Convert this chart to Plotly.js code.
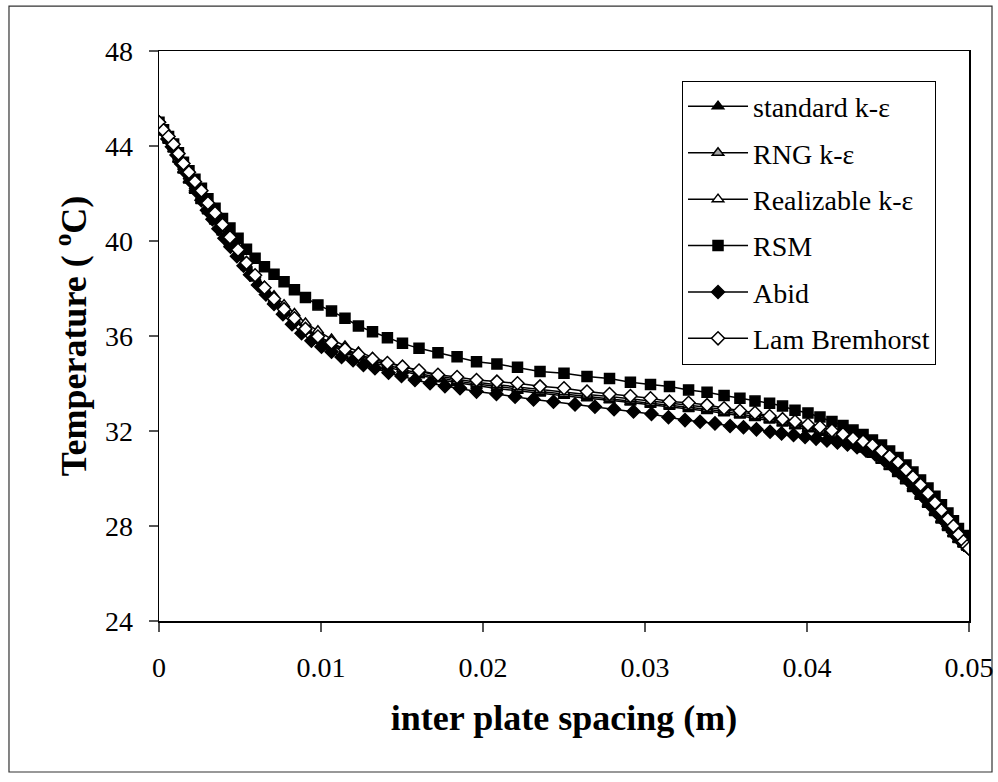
<!DOCTYPE html>
<html>
<head>
<meta charset="utf-8">
<script src="https://cdn.plot.ly/plotly-3.0.1.min.js"></script>
<style>html,body{margin:0;padding:0;background:#fff;}#chart{width:998px;height:782px;}</style>
</head>
<body>
<div id="chart"></div>
<script>
// Shared spacing grid (m) for most models
const xCommon = [0, 0.00028, 0.00059, 0.0009, 0.0012, 0.00151, 0.00185, 0.00222, 0.00262, 0.00302,
  0.00346, 0.00392, 0.00438, 0.00488, 0.0054, 0.00593, 0.00651, 0.0071, 0.00772, 0.00836,
  0.00904, 0.00981, 0.01065, 0.01148, 0.01231, 0.01318, 0.0141, 0.01503, 0.01605, 0.01722,
  0.0184, 0.0196, 0.02086, 0.02213, 0.02352, 0.025, 0.02642, 0.02781, 0.0291, 0.03034,
  0.03151, 0.03269, 0.03383, 0.03488, 0.03586, 0.03679, 0.03769, 0.03849, 0.03926, 0.04006,
  0.0408, 0.04154, 0.04222, 0.04284, 0.04346, 0.04404, 0.0446, 0.0451, 0.04562, 0.04611,
  0.04654, 0.04701, 0.04747, 0.0479, 0.0483, 0.0487, 0.04904, 0.04935, 0.04966, 0.04988,
  0.05];

const tStandard = [45.0, 44.58, 44.22, 43.85, 43.42, 42.97, 42.55, 42.12, 41.68, 41.25,
  40.82, 40.36, 39.9, 39.4, 38.9, 38.42, 37.95, 37.5, 37.06, 36.65,
  36.25, 35.9, 35.6, 35.32, 35.09, 34.89, 34.7, 34.52, 34.35, 34.18,
  34.03, 33.9, 33.79, 33.69, 33.58, 33.48, 33.38, 33.29, 33.2, 33.11,
  33.02, 32.93, 32.84, 32.75, 32.65, 32.55, 32.44, 32.32, 32.2, 32.07,
  31.93, 31.78, 31.6, 31.42, 31.22, 31.0, 30.75, 30.48, 30.19, 29.88,
  29.56, 29.23, 28.89, 28.55, 28.23, 27.92, 27.65, 27.41, 27.22, 27.1,
  27.05];

const tRNG = [45.0, 44.6, 44.25, 43.88, 43.45, 43.0, 42.58, 42.15, 41.72, 41.3,
  40.88, 40.42, 39.95, 39.45, 38.95, 38.45, 37.98, 37.55, 37.12, 36.72,
  36.33, 35.98, 35.68, 35.4, 35.17, 34.97, 34.78, 34.6, 34.42, 34.25,
  34.1, 33.98, 33.87, 33.77, 33.66, 33.56, 33.46, 33.37, 33.28, 33.19,
  33.1, 33.01, 32.92, 32.82, 32.72, 32.62, 32.51, 32.39, 32.27, 32.14,
  32.0, 31.84, 31.66, 31.48, 31.28, 31.05, 30.8, 30.53, 30.24, 29.92,
  29.6, 29.27, 28.92, 28.58, 28.26, 27.95, 27.68, 27.43, 27.23, 27.11,
  27.05];

const tRealizable = [45.0, 44.62, 44.3, 43.95, 43.55, 43.12, 42.72, 42.3, 41.88, 41.42,
  40.98, 40.5, 40.0, 39.5, 39.0, 38.55, 38.1, 37.7, 37.32, 36.95,
  36.55, 36.22, 35.87, 35.58, 35.33, 35.1, 34.9, 34.72, 34.52, 34.32,
  34.18, 34.05, 33.95, 33.85, 33.74, 33.64, 33.54, 33.45, 33.36, 33.27,
  33.18, 33.09, 33.0, 32.9, 32.8, 32.7, 32.58, 32.46, 32.34, 32.2,
  32.06, 31.9, 31.72, 31.54, 31.35, 31.12, 30.87, 30.6, 30.3, 29.98,
  29.66, 29.32, 28.97, 28.62, 28.3, 27.98, 27.7, 27.45, 27.25, 27.12,
  27.05];

const tRSM = [45.0, 44.68, 44.4, 44.08, 43.72, 43.32, 42.96, 42.6, 42.22, 41.78,
  41.38, 40.95, 40.55, 40.12, 39.65, 39.27, 38.92, 38.6, 38.28, 37.95,
  37.62, 37.31, 37.05, 36.75, 36.42, 36.18, 35.93, 35.69, 35.48, 35.3,
  35.13, 34.92, 34.82, 34.68, 34.51, 34.43, 34.29, 34.21, 34.05, 33.96,
  33.87, 33.73, 33.63, 33.49, 33.38, 33.26, 33.17, 33.05, 32.87, 32.76,
  32.59, 32.4, 32.23, 32.04, 31.85, 31.62, 31.41, 31.16, 30.88, 30.57,
  30.27, 29.94, 29.6, 29.25, 28.9, 28.55, 28.22, 27.9, 27.6, 27.32,
  27.15];

const tLamBremhorst = [45.0, 44.66, 44.4, 44.07, 43.68, 43.26, 42.9, 42.5, 42.12, 41.6,
  41.18, 40.69, 40.16, 39.63, 39.08, 38.56, 38.03, 37.57, 37.13, 36.75,
  36.3, 35.98, 35.72, 35.44, 35.23, 35.03, 34.86, 34.71, 34.55, 34.37,
  34.27, 34.15, 34.08, 34.01, 33.88, 33.8, 33.66, 33.56, 33.47, 33.38,
  33.24, 33.19, 33.09, 32.96, 32.85, 32.77, 32.63, 32.5, 32.4, 32.27,
  32.17, 32.02, 31.86, 31.69, 31.56, 31.4, 31.17, 30.94, 30.69, 30.37,
  30.06, 29.74, 29.38, 28.98, 28.66, 28.3, 28.0, 27.64, 27.36, 27.15,
  27.05];

// Abid model on its own (denser) grid
const xAbid = [0, 0.00025, 0.00052, 0.0008, 0.00108, 0.00136, 0.00167, 0.00198, 0.00228, 0.00262,
  0.00296, 0.0033, 0.00367, 0.00404, 0.00441, 0.00481, 0.00522, 0.00562, 0.00611, 0.0066,
  0.0071, 0.00765, 0.00821, 0.0088, 0.00941, 0.01003, 0.01065, 0.01127, 0.01198, 0.01262,
  0.01333, 0.01417, 0.01497, 0.0158, 0.01673, 0.01765, 0.01858, 0.0196, 0.02083, 0.02198,
  0.02312, 0.02435, 0.02568, 0.02691, 0.02809, 0.02929, 0.0304, 0.03145, 0.03247, 0.0334,
  0.03432, 0.03525, 0.03608, 0.03688, 0.03772, 0.03843, 0.03917, 0.03988, 0.04056, 0.04123,
  0.04188, 0.0425, 0.04309, 0.04364, 0.0442, 0.04472, 0.04522, 0.04568, 0.04614, 0.04657,
  0.04698, 0.04738, 0.04775, 0.04809, 0.04843, 0.04873, 0.04901, 0.04929, 0.04954, 0.04975,
  0.04991, 0.05];

const tAbid = [45.0, 44.63, 44.3, 43.97, 43.62, 43.25, 42.88, 42.5, 42.12, 41.72,
  41.3, 40.92, 40.52, 40.12, 39.76, 39.36, 38.96, 38.58, 38.15, 37.75,
  37.35, 36.92, 36.5, 36.12, 35.8, 35.55, 35.34, 35.12, 34.98, 34.78,
  34.64, 34.45, 34.32, 34.15, 34.01, 33.89, 33.8, 33.66, 33.56, 33.44,
  33.33, 33.23, 33.12, 33.02, 32.92, 32.82, 32.72, 32.58, 32.46, 32.39,
  32.32, 32.21, 32.16, 32.07, 31.97, 31.9, 31.83, 31.75, 31.68, 31.6,
  31.52, 31.43, 31.32, 31.18, 31.02, 30.8, 30.55, 30.27, 29.98, 29.68,
  29.38, 29.08, 28.78, 28.5, 28.23, 27.98, 27.75, 27.52, 27.34, 27.2,
  27.11, 27.05];

const seriesNames = ['standard k-\u03b5', 'RNG k-\u03b5', 'Realizable k-\u03b5', 'RSM', 'Abid', 'Lam Bremhorst'];
const xTickVals = [0, 0.01, 0.02, 0.03, 0.04, 0.05];
const xTickText = ['0', '0.01', '0.02', '0.03', '0.04', '0.05'];
const yTickVals = [24, 28, 32, 36, 40, 44, 48];

const serif = 'Liberation Serif, Times New Roman, serif';
function tr(name, x, y, symbol, fill, size, grp) {
  return {
    type: 'scatter', mode: 'lines+markers', name: name, x: x, y: y,
    legendgroup: grp,
    line: {color: '#000', width: 1.5},
    marker: {symbol: symbol, color: fill, size: size, line: {color: '#000', width: 1.5}}
  };
}
const data = [
  tr(seriesNames[0], xCommon, tStandard, 'triangle-up', '#000', 10, 'a'),
  tr(seriesNames[1], xCommon, tRNG, 'triangle-up', '#a6a6a6', 10, 'b'),
  tr(seriesNames[2], xCommon, tRealizable, 'triangle-up', '#fff', 10, 'c'),
  tr(seriesNames[3], xCommon, tRSM, 'square', '#000', 10, 'd'),
  tr(seriesNames[4], xAbid, tAbid, 'diamond', '#000', 10, 'e'),
  tr(seriesNames[5], xCommon, tLamBremhorst, 'diamond', '#fff', 10, 'f')
];

const layout = {
  width: 998, height: 782,
  margin: {l: 159, r: 29, t: 51, b: 161},
  paper_bgcolor: '#fff', plot_bgcolor: '#fff',
  font: {family: serif, color: '#000', size: 28},
  showlegend: true,
  legend: {
    x: 0.6457, y: 0.948, xanchor: 'left', yanchor: 'top',
    bgcolor: '#fff', bordercolor: '#000', borderwidth: 1,
    font: {family: serif, size: 28, color: '#000'},
    tracegroupgap: 7, itemwidth: 60
  },
  xaxis: {
    range: [0, 0.05], tickvals: xTickVals, ticktext: xTickText,
    showgrid: false, zeroline: false,
    showline: true, linecolor: '#000', linewidth: 1.5, mirror: true,
    ticks: 'outside', ticklen: 9, tickcolor: '#555', tickwidth: 1.5,
    ticklabelstandoff: 12,
    tickfont: {family: serif, size: 28, color: '#000'},
    title: {text: '<b>inter plate spacing (m)</b>', font: {family: serif, size: 36, color: '#000'}, standoff: 22},
    automargin: false
  },
  yaxis: {
    range: [24, 48], tickvals: yTickVals,
    showgrid: false, zeroline: false,
    showline: true, linecolor: '#000', linewidth: 1.5, mirror: true,
    ticks: 'outside', ticklen: 9, tickcolor: '#555', tickwidth: 1.5,
    ticklabelstandoff: 10,
    tickfont: {family: serif, size: 28, color: '#000'},
    title: {text: '<b>Temperature ( <sup>o</sup>C)</b>', font: {family: serif, size: 36, color: '#000'}, standoff: 7},
    automargin: false
  },
  shapes: [{
    type: 'rect', xref: 'paper', yref: 'paper',
    x0: -0.1852, x1: 1.0284, y0: -0.2649, y1: 1.0789,
    line: {color: '#333', width: 1.2}, fillcolor: 'rgba(0,0,0,0)', layer: 'below'
  }]
};

Plotly.newPlot('chart', data, layout, {displayModeBar: false, staticPlot: true});
</script>
</body>
</html>
